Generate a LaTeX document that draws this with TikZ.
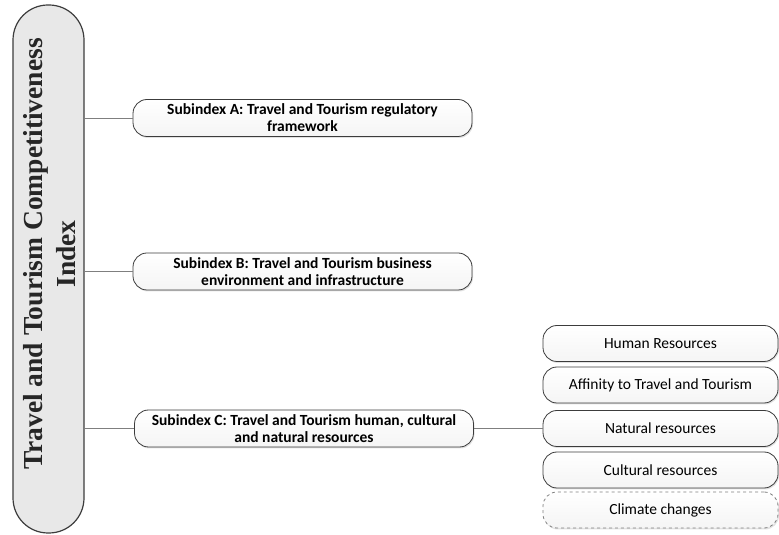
\documentclass[tikz,border=0pt]{standalone}
\usepackage{fontspec}
\setmainfont{Liberation Serif}
\newfontfamily\calibri{Carlito}
\usetikzlibrary{positioning,shadows}

\definecolor{boxline}{HTML}{3C3C3C}
\definecolor{linkline}{HTML}{7F7F7F}

\begin{document}
\begin{tikzpicture}[line join=bevel,
  subbox/.style={draw=boxline,line width=0.8bp,rounded corners=14bp,
    top color=white,bottom color=gray!8,
    drop shadow={shadow xshift=1bp,shadow yshift=-1.5bp,fill=gray!45},
    minimum width=339bp,minimum height=37bp,inner sep=0pt,align=center,
    font=\calibri\bfseries\fontsize{15.5bp}{17bp}\selectfont},
  leafbox/.style={subbox,minimum width=235bp,minimum height=36bp,
    font=\calibri\fontsize{15.5bp}{17bp}\selectfont},
  link/.style={draw=linkline,line width=0.8bp},
]
\useasboundingbox (0bp,0bp) rectangle (779bp,535bp);
%%
\node (tci) at (48.5bp,266bp) [draw=boxline,line width=1.2bp,fill=gray!18,rounded corners=35bp,
  minimum width=71bp,minimum height=528bp] {};
  \node (tci_text) at (50bp,281bp) [rotate=90,align=center,text=black!85,
  font=\bfseries\fontsize{27.5bp}{33bp}\selectfont] {Travel and Tourism Competitiveness\\Index};
%
\node (sub_a) at (302.5bp,417bp) [subbox] {Subindex A: Travel and Tourism regulatory\\framework};
  \node (sub_b) at (302.5bp,263.5bp) [subbox] {Subindex B: Travel and Tourism business\\environment and infrastructure};
  \node (sub_c) at (304bp,106.5bp) [subbox] {Subindex C: Travel and Tourism human, cultural\\and natural resources};
%
\node (leaf_hr) at (660.5bp,191.5bp) [leafbox] {Human Resources};
  \node (leaf_aff) at (660.5bp,150bp) [leafbox] {Affinity to Travel and Tourism};
  \node (leaf_nat) at (660.5bp,106.5bp) [leafbox] {Natural resources};
  \node (leaf_cul) at (660.5bp,65bp) [leafbox] {Cultural resources};
  \node (leaf_cli) at (660.5bp,25bp) [leafbox,dashed,draw=gray] {Climate changes};
%
\draw [link] (tci.east |- sub_a) -- (sub_a);
  \draw [link] (tci.east |- sub_b) -- (sub_b);
  \draw [link] (tci.east |- sub_c) -- (sub_c);
  \draw [link] (sub_c) -- (leaf_nat);
%
\end{tikzpicture}
\end{document}
